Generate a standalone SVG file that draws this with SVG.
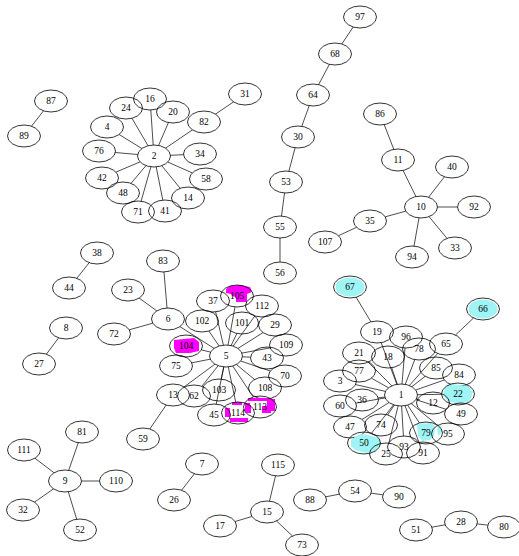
<svg xmlns="http://www.w3.org/2000/svg" width="519" height="556" viewBox="0 0 519 556">
<style>
.n ellipse.o{fill:none;stroke:#000;stroke-width:0.8}
.n text{font-family:"Liberation Serif","Times New Roman",serif;font-size:9.5px;text-anchor:middle;dominant-baseline:central;fill:#000}
#edges line{stroke:#000;stroke-width:0.7}
.c{fill:#9ff5f5}
.m{fill:#ff00ff}
</style>
<rect width="519" height="556" fill="#fff"/>
<g id="edges">
<line x1="43.5" y1="110.8" x2="31.5" y2="126.2"/>
<line x1="153.2" y1="145" x2="150.8" y2="110"/>
<line x1="148" y1="145.7" x2="132" y2="118.3"/>
<line x1="158.6" y1="145.4" x2="168.4" y2="122.6"/>
<line x1="165.6" y1="148.1" x2="192.4" y2="129.9"/>
<line x1="141.9" y1="148.5" x2="119.1" y2="134.5"/>
<line x1="137.7" y1="154.5" x2="115.3" y2="152.5"/>
<line x1="170.5" y1="155.3" x2="183.5" y2="154.7"/>
<line x1="140.1" y1="161.9" x2="115.9" y2="172.1"/>
<line x1="167.8" y1="162.1" x2="192.3" y2="172.9"/>
<line x1="146" y1="165.6" x2="131" y2="183.4"/>
<line x1="161.8" y1="165.7" x2="180.2" y2="188.3"/>
<line x1="150.9" y1="166.8" x2="141.1" y2="201.2"/>
<line x1="156.2" y1="166.9" x2="162.8" y2="200.1"/>
<line x1="215.5" y1="114.1" x2="233.5" y2="101.9"/>
<line x1="353.2" y1="27" x2="341.8" y2="44"/>
<line x1="329.4" y1="64.4" x2="318.6" y2="84.6"/>
<line x1="309.2" y1="105.7" x2="301.8" y2="126.3"/>
<line x1="295.1" y1="147.8" x2="288.9" y2="171.2"/>
<line x1="284.5" y1="193" x2="281.5" y2="216"/>
<line x1="280" y1="238" x2="280" y2="262"/>
<line x1="384.2" y1="124.6" x2="393.8" y2="149.4"/>
<line x1="403.1" y1="170.5" x2="415.9" y2="196.5"/>
<line x1="428.6" y1="197.2" x2="444.4" y2="176.8"/>
<line x1="437.5" y1="207" x2="457.5" y2="207"/>
<line x1="429" y1="216.6" x2="447" y2="238.4"/>
<line x1="419" y1="217.9" x2="414" y2="246.1"/>
<line x1="405.7" y1="211.2" x2="385.3" y2="216.8"/>
<line x1="356.5" y1="227.3" x2="338.5" y2="235.7"/>
<line x1="89.2" y1="262.7" x2="76.8" y2="278.3"/>
<line x1="58.6" y1="337.8" x2="46.4" y2="354.2"/>
<line x1="167" y1="308" x2="164" y2="272"/>
<line x1="156.8" y1="310.9" x2="139.2" y2="298.1"/>
<line x1="152.8" y1="323.2" x2="129.2" y2="329.8"/>
<line x1="179.9" y1="326.6" x2="214.1" y2="348.4"/>
<line x1="223.4" y1="345.1" x2="215.6" y2="311.9"/>
<line x1="228" y1="345.1" x2="235" y2="306.9"/>
<line x1="233.1" y1="346.1" x2="254.9" y2="315.9"/>
<line x1="219.1" y1="346" x2="208.9" y2="331"/>
<line x1="231.1" y1="345.5" x2="236.9" y2="333.5"/>
<line x1="238" y1="348.4" x2="263" y2="332.6"/>
<line x1="210.6" y1="352.1" x2="201.4" y2="349.9"/>
<line x1="241.9" y1="353.1" x2="270.1" y2="347.9"/>
<line x1="242.5" y1="356.8" x2="250.5" y2="357.2"/>
<line x1="210.2" y1="359.2" x2="191.8" y2="362.8"/>
<line x1="240.7" y1="361" x2="270.3" y2="371"/>
<line x1="236.4" y1="364.5" x2="254.6" y2="379.5"/>
<line x1="214.9" y1="364.2" x2="184.1" y2="386.9"/>
<line x1="218.2" y1="365.7" x2="201.8" y2="386.3"/>
<line x1="223.8" y1="366.9" x2="221.2" y2="379.1"/>
<line x1="232.7" y1="366" x2="253.3" y2="397"/>
<line x1="228.3" y1="366.9" x2="235.7" y2="402.1"/>
<line x1="223.8" y1="366.9" x2="216.2" y2="404.1"/>
<line x1="166.2" y1="405" x2="149.8" y2="429"/>
<line x1="396.9" y1="384.3" x2="381.1" y2="342.7"/>
<line x1="402" y1="384" x2="405" y2="348"/>
<line x1="405.2" y1="384.4" x2="414.8" y2="359.6"/>
<line x1="409.4" y1="385.5" x2="437.6" y2="353.5"/>
<line x1="391.8" y1="385.8" x2="368.2" y2="362.2"/>
<line x1="397.3" y1="384.3" x2="391.7" y2="367.7"/>
<line x1="388.5" y1="387.8" x2="371.5" y2="378.2"/>
<line x1="411.8" y1="386.7" x2="425.2" y2="376.3"/>
<line x1="415.7" y1="390" x2="444.3" y2="380"/>
<line x1="385.4" y1="391.4" x2="355.6" y2="384.6"/>
<line x1="417.5" y1="394.7" x2="441.5" y2="394.3"/>
<line x1="384.8" y1="397.1" x2="378.2" y2="397.9"/>
<line x1="416.5" y1="398.9" x2="420" y2="400"/>
<line x1="385.1" y1="397.9" x2="356.1" y2="403.1"/>
<line x1="415.9" y1="399.7" x2="446.1" y2="409.3"/>
<line x1="389" y1="402.5" x2="362" y2="419.5"/>
<line x1="394.3" y1="405.1" x2="387.7" y2="414.9"/>
<line x1="407.6" y1="405.1" x2="419.4" y2="422.9"/>
<line x1="411.3" y1="403.6" x2="437.7" y2="425.4"/>
<line x1="393.5" y1="404.8" x2="371.5" y2="433.2"/>
<line x1="401.6" y1="406" x2="403.4" y2="436"/>
<line x1="398.2" y1="405.8" x2="388.8" y2="443.2"/>
<line x1="405" y1="405.7" x2="419" y2="442.3"/>
<line x1="370.9" y1="321.8" x2="356.1" y2="297.2"/>
<line x1="455.5" y1="335" x2="473.5" y2="318"/>
<line x1="68.7" y1="470.3" x2="78.3" y2="442.7"/>
<line x1="54.1" y1="472.8" x2="34.9" y2="458.2"/>
<line x1="81.5" y1="481" x2="99.5" y2="481"/>
<line x1="53.5" y1="488.9" x2="34.5" y2="502.1"/>
<line x1="68.3" y1="491.8" x2="76.7" y2="519.2"/>
<line x1="194.4" y1="473.8" x2="181.6" y2="490.2"/>
<line x1="269.5" y1="501.1" x2="275.5" y2="475.9"/>
<line x1="251.9" y1="516.5" x2="235.1" y2="521.5"/>
<line x1="276.5" y1="521" x2="292.5" y2="536"/>
<line x1="325.8" y1="496.8" x2="339.2" y2="494.2"/>
<line x1="371.2" y1="493.2" x2="382.8" y2="494.8"/>
<line x1="431.9" y1="527.2" x2="445.1" y2="524.8"/>
<line x1="477.3" y1="523.9" x2="487.7" y2="525.1"/>
</g>
<g class="n" id="n87"><ellipse class="o" cx="51" cy="101" rx="16.5" ry="11"/><text x="51" y="101">87</text></g>
<g class="n" id="n89"><ellipse class="o" cx="24" cy="136" rx="16.5" ry="11"/><text x="24" y="136">89</text></g>
<g class="n" id="n2"><ellipse class="o" cx="154" cy="156" rx="16.5" ry="11"/><text x="154" y="156">2</text></g>
<g class="n" id="n16"><ellipse class="o" cx="150" cy="99" rx="16.5" ry="11"/><text x="150" y="99">16</text></g>
<g class="n" id="n24"><ellipse class="o" cx="126" cy="108" rx="16.5" ry="11"/><text x="126" y="108">24</text></g>
<g class="n" id="n20"><ellipse class="o" cx="173" cy="112" rx="16.5" ry="11"/><text x="173" y="112">20</text></g>
<g class="n" id="n82"><ellipse class="o" cx="204" cy="122" rx="16.5" ry="11"/><text x="204" y="122">82</text></g>
<g class="n" id="n31"><ellipse class="o" cx="245" cy="94" rx="16.5" ry="11"/><text x="245" y="94">31</text></g>
<g class="n" id="n4"><ellipse class="o" cx="107" cy="127" rx="16.5" ry="11"/><text x="107" y="127">4</text></g>
<g class="n" id="n76"><ellipse class="o" cx="99" cy="151" rx="16.5" ry="11"/><text x="99" y="151">76</text></g>
<g class="n" id="n34"><ellipse class="o" cx="200" cy="154" rx="16.5" ry="11"/><text x="200" y="154">34</text></g>
<g class="n" id="n42"><ellipse class="o" cx="102" cy="178" rx="16.5" ry="11"/><text x="102" y="178">42</text></g>
<g class="n" id="n58"><ellipse class="o" cx="206" cy="179" rx="16.5" ry="11"/><text x="206" y="179">58</text></g>
<g class="n" id="n48"><ellipse class="o" cx="123" cy="193" rx="16.5" ry="11"/><text x="123" y="193">48</text></g>
<g class="n" id="n14"><ellipse class="o" cx="188" cy="198" rx="16.5" ry="11"/><text x="188" y="198">14</text></g>
<g class="n" id="n71"><ellipse class="o" cx="138" cy="212" rx="16.5" ry="11"/><text x="138" y="212">71</text></g>
<g class="n" id="n41"><ellipse class="o" cx="165" cy="211" rx="16.5" ry="11"/><text x="165" y="211">41</text></g>
<g class="n" id="n97"><ellipse class="o" cx="360" cy="17" rx="16.5" ry="11"/><text x="360" y="17">97</text></g>
<g class="n" id="n68"><ellipse class="o" cx="335" cy="54" rx="16.5" ry="11"/><text x="335" y="54">68</text></g>
<g class="n" id="n64"><ellipse class="o" cx="313" cy="95" rx="16.5" ry="11"/><text x="313" y="95">64</text></g>
<g class="n" id="n30"><ellipse class="o" cx="298" cy="137" rx="16.5" ry="11"/><text x="298" y="137">30</text></g>
<g class="n" id="n53"><ellipse class="o" cx="286" cy="182" rx="16.5" ry="11"/><text x="286" y="182">53</text></g>
<g class="n" id="n55"><ellipse class="o" cx="280" cy="227" rx="16.5" ry="11"/><text x="280" y="227">55</text></g>
<g class="n" id="n56"><ellipse class="o" cx="280" cy="273" rx="16.5" ry="11"/><text x="280" y="273">56</text></g>
<g class="n" id="n86"><ellipse class="o" cx="380" cy="114" rx="16.5" ry="11"/><text x="380" y="114">86</text></g>
<g class="n" id="n11"><ellipse class="o" cx="398" cy="160" rx="16.5" ry="11"/><text x="398" y="160">11</text></g>
<g class="n" id="n10"><ellipse class="o" cx="421" cy="207" rx="16.5" ry="11"/><text x="421" y="207">10</text></g>
<g class="n" id="n40"><ellipse class="o" cx="452" cy="167" rx="16.5" ry="11"/><text x="452" y="167">40</text></g>
<g class="n" id="n92"><ellipse class="o" cx="474" cy="207" rx="16.5" ry="11"/><text x="474" y="207">92</text></g>
<g class="n" id="n35"><ellipse class="o" cx="370" cy="221" rx="16.5" ry="11"/><text x="370" y="221">35</text></g>
<g class="n" id="n107"><ellipse class="o" cx="325" cy="242" rx="16.5" ry="11"/><text x="325" y="242">107</text></g>
<g class="n" id="n33"><ellipse class="o" cx="455" cy="248" rx="16.5" ry="11"/><text x="455" y="248">33</text></g>
<g class="n" id="n94"><ellipse class="o" cx="412" cy="257" rx="16.5" ry="11"/><text x="412" y="257">94</text></g>
<g class="n" id="n38"><ellipse class="o" cx="97" cy="253" rx="16.5" ry="11"/><text x="97" y="253">38</text></g>
<g class="n" id="n44"><ellipse class="o" cx="69" cy="288" rx="16.5" ry="11"/><text x="69" y="288">44</text></g>
<g class="n" id="n8"><ellipse class="o" cx="66" cy="328" rx="16.5" ry="11"/><text x="66" y="328">8</text></g>
<g class="n" id="n27"><ellipse class="o" cx="39" cy="364" rx="16.5" ry="11"/><text x="39" y="364">27</text></g>
<g class="n" id="n83"><ellipse class="o" cx="163" cy="261" rx="16.5" ry="11"/><text x="163" y="261">83</text></g>
<g class="n" id="n23"><ellipse class="o" cx="128" cy="290" rx="16.5" ry="11"/><text x="128" y="290">23</text></g>
<g class="n" id="n6"><ellipse class="o" cx="168" cy="319" rx="16.5" ry="11"/><text x="168" y="319">6</text></g>
<g class="n" id="n72"><ellipse class="o" cx="114" cy="334" rx="16.5" ry="11"/><text x="114" y="334">72</text></g>
<g class="n" id="n5"><ellipse class="o" cx="226" cy="356" rx="16.5" ry="11"/><text x="226" y="356">5</text></g>
<g class="n" id="n37"><ellipse class="o" cx="213" cy="301" rx="16.5" ry="11"/><text x="213" y="301">37</text></g>
<g class="n" id="n105"><path class="m" d="M226,289 L230,286 L240,285 L250,287 L252,292 L247,294 L247,302 L236,302 L236,297 L232,296 L231,294 L226,293 Z"/><ellipse class="o" cx="237" cy="296" rx="16.5" ry="11"/><text x="237" y="296">105</text></g>
<g class="n" id="n112"><ellipse class="o" cx="262" cy="306" rx="16.5" ry="11"/><text x="262" y="306">112</text></g>
<g class="n" id="n102"><ellipse class="o" cx="202" cy="321" rx="16.5" ry="11"/><text x="202" y="321">102</text></g>
<g class="n" id="n101"><ellipse class="o" cx="242" cy="323" rx="16.5" ry="11"/><text x="242" y="323">101</text></g>
<g class="n" id="n29"><ellipse class="o" cx="275" cy="325" rx="16.5" ry="11"/><text x="275" y="325">29</text></g>
<g class="n" id="n104"><path class="m" d="M174,340 L194,338 L199,342 L199,351 L190,353 L176,353 L174,348 Z"/><ellipse class="o" cx="186" cy="346" rx="16.5" ry="11"/><text x="186" y="346">104</text></g>
<g class="n" id="n109"><ellipse class="o" cx="286" cy="345" rx="16.5" ry="11"/><text x="286" y="345">109</text></g>
<g class="n" id="n43"><ellipse class="o" cx="267" cy="358" rx="16.5" ry="11"/><text x="267" y="358">43</text></g>
<g class="n" id="n75"><ellipse class="o" cx="176" cy="366" rx="16.5" ry="11"/><text x="176" y="366">75</text></g>
<g class="n" id="n70"><ellipse class="o" cx="285" cy="376" rx="16.5" ry="11"/><text x="285" y="376">70</text></g>
<g class="n" id="n108"><ellipse class="o" cx="265" cy="388" rx="16.5" ry="11"/><text x="265" y="388">108</text></g>
<g class="n" id="n13"><ellipse class="o" cx="173" cy="395" rx="16.5" ry="11"/><text x="173" y="395">13</text></g>
<g class="n" id="n62"><ellipse class="o" cx="194" cy="396" rx="16.5" ry="11"/><text x="194" y="396">62</text></g>
<g class="n" id="n103"><ellipse class="o" cx="219" cy="390" rx="16.5" ry="11"/><text x="219" y="390">103</text></g>
<g class="n" id="n113"><path class="m" d="M248,398 h20 v1 h7 v12 h-4 v2 h-9 v-7 h5 v-5 h-19 Z M245,403 h5 v6 h-5 Z"/><ellipse class="o" cx="260" cy="407" rx="16.5" ry="11"/><text x="260" y="407">113</text></g>
<g class="n" id="n114"><path class="m" d="M232,402 h10 v3 h-10 Z M225,408 h5 v9 h-5 Z M230,418 h18 v4 h-18 Z M245,405 h6 v8 h-6 Z"/><ellipse class="o" cx="238" cy="413" rx="16.5" ry="11"/><text x="238" y="413">114</text></g>
<g class="n" id="n45"><ellipse class="o" cx="214" cy="415" rx="16.5" ry="11"/><text x="214" y="415">45</text></g>
<g class="n" id="n59"><ellipse class="o" cx="143" cy="439" rx="16.5" ry="11"/><text x="143" y="439">59</text></g>
<g class="n" id="n1"><ellipse class="o" cx="401" cy="395" rx="16.5" ry="11"/><text x="401" y="395">1</text></g>
<g class="n" id="n67"><ellipse class="c" cx="350" cy="287" rx="14.5" ry="9.5"/><ellipse class="o" cx="350" cy="287" rx="16.5" ry="11"/><text x="350" y="287">67</text></g>
<g class="n" id="n66"><ellipse class="c" cx="483" cy="309" rx="14.5" ry="9.5"/><ellipse class="o" cx="483" cy="309" rx="16.5" ry="11"/><text x="483" y="309">66</text></g>
<g class="n" id="n19"><ellipse class="o" cx="377" cy="332" rx="16.5" ry="11"/><text x="377" y="332">19</text></g>
<g class="n" id="n96"><ellipse class="o" cx="406" cy="337" rx="16.5" ry="11"/><text x="406" y="337">96</text></g>
<g class="n" id="n78"><ellipse class="o" cx="419" cy="349" rx="16.5" ry="11"/><text x="419" y="349">78</text></g>
<g class="n" id="n65"><ellipse class="o" cx="446" cy="344" rx="16.5" ry="11"/><text x="446" y="344">65</text></g>
<g class="n" id="n21"><ellipse class="o" cx="359" cy="353" rx="16.5" ry="11"/><text x="359" y="353">21</text></g>
<g class="n" id="n18"><ellipse class="o" cx="388" cy="357" rx="16.5" ry="11"/><text x="388" y="357">18</text></g>
<g class="n" id="n77"><ellipse class="o" cx="359" cy="371" rx="16.5" ry="11"/><text x="359" y="371">77</text></g>
<g class="n" id="n85"><ellipse class="o" cx="436" cy="368" rx="16.5" ry="11"/><text x="436" y="368">85</text></g>
<g class="n" id="n84"><ellipse class="o" cx="459" cy="375" rx="16.5" ry="11"/><text x="459" y="375">84</text></g>
<g class="n" id="n3"><ellipse class="o" cx="340" cy="381" rx="16.5" ry="11"/><text x="340" y="381">3</text></g>
<g class="n" id="n22"><path class="c" d="M445,387 L452,384 L468,386 L473,392 L470,401 L460,404 L447,401 L443,394 Z"/><ellipse class="o" cx="458" cy="394" rx="16.5" ry="11"/><text x="458" y="394">22</text></g>
<g class="n" id="n36"><ellipse class="o" cx="362" cy="400" rx="16.5" ry="11"/><text x="362" y="400">36</text></g>
<g class="n" id="n12"><ellipse class="o" cx="433" cy="403" rx="16.5" ry="11"/><text x="433" y="403">12</text></g>
<g class="n" id="n60"><ellipse class="o" cx="340" cy="406" rx="16.5" ry="11"/><text x="340" y="406">60</text></g>
<g class="n" id="n49"><ellipse class="o" cx="461" cy="414" rx="16.5" ry="11"/><text x="461" y="414">49</text></g>
<g class="n" id="n47"><ellipse class="o" cx="350" cy="427" rx="16.5" ry="11"/><text x="350" y="427">47</text></g>
<g class="n" id="n74"><ellipse class="o" cx="381" cy="425" rx="16.5" ry="11"/><text x="381" y="425">74</text></g>
<g class="n" id="n79"><path class="c" d="M417,424 L431,423 L435,426 L434,436 L430,440 L422,441 L418,436 Z M437,428 L441,425 L442,432 L438,436 Z"/><ellipse class="o" cx="426" cy="433" rx="16.5" ry="11"/><text x="426" y="433">79</text></g>
<g class="n" id="n95"><ellipse class="o" cx="448" cy="434" rx="16.5" ry="11"/><text x="448" y="434">95</text></g>
<g class="n" id="n50"><path class="c" d="M351,440 L356,436 L362,434 L372,436 L379,438 L381,444 L375,451 L366,453 L355,450 L351,446 Z"/><ellipse class="o" cx="364" cy="443" rx="16.5" ry="11"/><text x="364" y="443">50</text></g>
<g class="n" id="n93"><ellipse class="o" cx="404" cy="447" rx="16.5" ry="11"/><text x="404" y="447">93</text></g>
<g class="n" id="n25"><ellipse class="o" cx="386" cy="454" rx="16.5" ry="11"/><text x="386" y="454">25</text></g>
<g class="n" id="n91"><ellipse class="o" cx="423" cy="453" rx="16.5" ry="11"/><text x="423" y="453">91</text></g>
<g class="n" id="n9"><ellipse class="o" cx="65" cy="481" rx="16.5" ry="11"/><text x="65" y="481">9</text></g>
<g class="n" id="n81"><ellipse class="o" cx="82" cy="432" rx="16.5" ry="11"/><text x="82" y="432">81</text></g>
<g class="n" id="n111"><ellipse class="o" cx="24" cy="450" rx="16.5" ry="11"/><text x="24" y="450">111</text></g>
<g class="n" id="n110"><ellipse class="o" cx="116" cy="481" rx="16.5" ry="11"/><text x="116" y="481">110</text></g>
<g class="n" id="n32"><ellipse class="o" cx="23" cy="510" rx="16.5" ry="11"/><text x="23" y="510">32</text></g>
<g class="n" id="n52"><ellipse class="o" cx="80" cy="530" rx="16.5" ry="11"/><text x="80" y="530">52</text></g>
<g class="n" id="n7"><ellipse class="o" cx="202" cy="464" rx="16.5" ry="11"/><text x="202" y="464">7</text></g>
<g class="n" id="n26"><ellipse class="o" cx="174" cy="500" rx="16.5" ry="11"/><text x="174" y="500">26</text></g>
<g class="n" id="n115"><ellipse class="o" cx="278" cy="465" rx="16.5" ry="11"/><text x="278" y="465">115</text></g>
<g class="n" id="n15"><ellipse class="o" cx="267" cy="512" rx="16.5" ry="11"/><text x="267" y="512">15</text></g>
<g class="n" id="n17"><ellipse class="o" cx="220" cy="526" rx="16.5" ry="11"/><text x="220" y="526">17</text></g>
<g class="n" id="n73"><ellipse class="o" cx="302" cy="545" rx="16.5" ry="11"/><text x="302" y="545">73</text></g>
<g class="n" id="n88"><ellipse class="o" cx="310" cy="500" rx="16.5" ry="11"/><text x="310" y="500">88</text></g>
<g class="n" id="n54"><ellipse class="o" cx="355" cy="491" rx="16.5" ry="11"/><text x="355" y="491">54</text></g>
<g class="n" id="n90"><ellipse class="o" cx="399" cy="497" rx="16.5" ry="11"/><text x="399" y="497">90</text></g>
<g class="n" id="n51"><ellipse class="o" cx="416" cy="530" rx="16.5" ry="11"/><text x="416" y="530">51</text></g>
<g class="n" id="n28"><ellipse class="o" cx="461" cy="522" rx="16.5" ry="11"/><text x="461" y="522">28</text></g>
<g class="n" id="n80"><ellipse class="o" cx="504" cy="527" rx="16.5" ry="11"/><text x="504" y="527">80</text></g>
</svg>
